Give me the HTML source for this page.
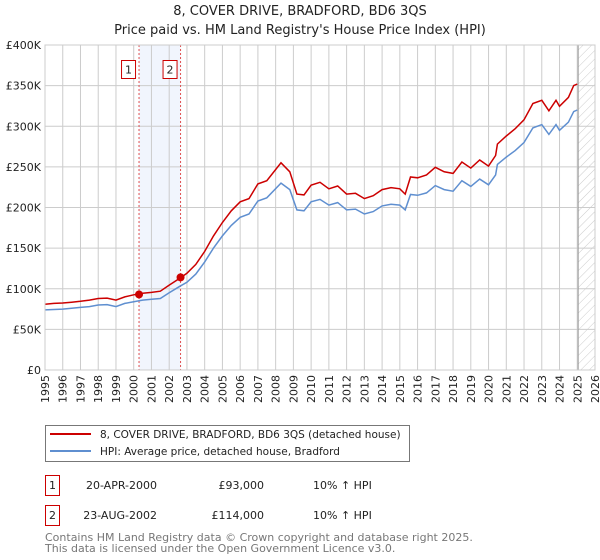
<!DOCTYPE html>
<html><head><meta charset="utf-8"><style>
html,body{margin:0;padding:0;background:#fff;width:600px;height:560px;overflow:hidden;font-family:"DejaVu Sans","Liberation Sans",sans-serif}
svg text{font-family:"DejaVu Sans","Liberation Sans",sans-serif}
</style></head><body>
<svg id="chart" width="600" height="560" xmlns="http://www.w3.org/2000/svg">
<defs><pattern id="hatch" patternUnits="userSpaceOnUse" width="6" height="6" patternTransform="rotate(45)"><line x1="0" y1="0" x2="0" y2="6" stroke="#ccc" stroke-width="1"/></pattern></defs>
<text x="300" y="15" text-anchor="middle" font-size="13" fill="#222">8, COVER DRIVE, BRADFORD, BD6 3QS</text>
<text x="300" y="34" text-anchor="middle" font-size="13" fill="#222">Price paid vs. HM Land Registry's House Price Index (HPI)</text>
<g id="grid"></g><g id="marks"></g><g id="axes"></g>
<rect x="45.5" y="425.5" width="364" height="36" fill="#fff" stroke="#777"/>
<line x1="50" y1="434" x2="91" y2="434" stroke="#cc0000" stroke-width="2"/>
<text x="100" y="438" font-size="10.5" fill="#222">8, COVER DRIVE, BRADFORD, BD6 3QS (detached house)</text>
<line x1="50" y1="451" x2="91" y2="451" stroke="#5f8fd0" stroke-width="2"/>
<text x="100" y="455" font-size="10.5" fill="#222">HPI: Average price, detached house, Bradford</text>
<g>
<rect x="45.5" y="475.5" width="14" height="20" fill="#fff" stroke="#cc0000"/>
<text x="52.5" y="489" text-anchor="middle" font-size="11" fill="#222">1</text>
<text x="157" y="489" text-anchor="end" font-size="11" fill="#222">20-APR-2000</text>
<text x="264" y="489" text-anchor="end" font-size="11" fill="#222">£93,000</text>
<text x="313" y="489" font-size="11" fill="#222">10% ↑ HPI</text></g>
<g>
<rect x="45.5" y="505.5" width="14" height="20" fill="#fff" stroke="#cc0000"/>
<text x="52.5" y="519" text-anchor="middle" font-size="11" fill="#222">2</text>
<text x="157" y="519" text-anchor="end" font-size="11" fill="#222">23-AUG-2002</text>
<text x="264" y="519" text-anchor="end" font-size="11" fill="#222">£114,000</text>
<text x="313" y="519" font-size="11" fill="#222">10% ↑ HPI</text></g>
<text x="45" y="541" font-size="11" fill="#777">Contains HM Land Registry data © Crown copyright and database right 2025.</text>
<text x="45" y="552" font-size="11" fill="#777">This data is licensed under the Open Government Licence v3.0.</text>
</svg>
<script>
const years=[1995,1996,1997,1998,1999,2000,2001,2002,2003,2004,2005,2006,2007,2008,2009,2010,2011,2012,2013,2014,2015,2016,2017,2018,2019,2020,2021,2022,2023,2024,2025,2026];
const yTicks=[0,50000,100000,150000,200000,250000,300000,350000,400000];
const yTickLabels=["£0","£50K","£100K","£150K","£200K","£250K","£300K","£350K","£400K"];
const hpiDates=[1995,1995.5,1996,1996.5,1997,1997.5,1998,1998.5,1999,1999.5,2000,2000.5,2001,2001.5,2002,2002.6,2003,2003.5,2004,2004.5,2005,2005.5,2006,2006.5,2007,2007.5,2008.3,2008.8,2009.2,2009.6,2010,2010.5,2011,2011.5,2012,2012.5,2013,2013.5,2014,2014.5,2015,2015.3,2015.6,2016,2016.5,2017,2017.5,2018,2018.5,2019,2019.5,2020,2020.4,2020.5,2021,2021.5,2022,2022.5,2023,2023.4,2023.8,2024,2024.5,2024.8,2025];
const hpiValues=[74000,74500,75000,76000,77000,78000,80000,80500,78000,82000,84000,86000,87000,88000,95000,103000,108000,118000,133000,150000,165000,178000,188000,192000,208000,212000,230000,222000,197000,196000,207000,210000,203000,206000,197000,198000,192000,195000,202000,204000,203000,197000,216000,215000,218000,227000,222000,220000,233000,226000,235000,228000,240000,253000,262000,270000,280000,298000,302000,290000,302000,295000,305000,318000,320000];
const priceValues=[81000,82000,82500,83500,84500,86000,88000,88500,86000,90000,92500,94500,95500,97000,104500,113000,119000,130000,146000,165000,181500,196000,207000,211000,229000,233000,255000,244000,216500,215500,227500,231000,223000,226500,216500,217500,211000,214500,222000,224500,223000,216500,237500,236500,240000,249500,244000,242000,256000,248500,258500,251000,264000,278000,288000,297000,308000,328000,332000,319000,332000,324500,335500,350000,352000];
const saleDates=[2000.3,2002.64];
const saleValues=[93000,114000];
const saleLabels=["1","2"];
const NS="http://www.w3.org/2000/svg";
const X0=45,X1=595,Y0=370,Y1=45;
const xs=d=>X0+(d-1995)/(2026-1995)*(X1-X0);
const ys=v=>Y0-v/400000*(Y0-Y1);
function mk(tag,attrs,parent){const e=document.createElementNS(NS,tag);for(const k in attrs)e.setAttribute(k,attrs[k]);parent.appendChild(e);return e;}
const grid=document.getElementById('grid'),marks=document.getElementById('marks'),axes=document.getElementById('axes');
const band=mk('rect',{x:xs(saleDates[0]),y:Y1,width:xs(saleDates[1])-xs(saleDates[0]),height:Y0-Y1,fill:'#eef3fc',opacity:0.8},grid);


const hatch=mk('rect',{x:xs(2025.05),y:Y1,width:X1-xs(2025.05),height:Y0-Y1,fill:'url(#hatch)'},grid);


years.forEach(y=>{const l=mk('line',{x1:xs(y),x2:xs(y),y1:Y1,y2:Y0,stroke:'#ccc','stroke-width':1},grid);


const tx=xs(y)+4,ty=Y0+5;
const t=mk('text',{x:tx,y:ty,transform:'rotate(-90 '+tx+' '+ty+')','text-anchor':'end','font-size':11,fill:'#222'},axes);t.textContent=y;

});
yTicks.forEach((v,i)=>{const l=mk('line',{x1:X0,x2:X1,y1:ys(v),y2:ys(v),stroke:'#ccc','stroke-width':1},grid);


const t=mk('text',{x:X0-4,y:ys(v)+4,'text-anchor':'end','font-size':11,fill:'#222'},axes);t.textContent=yTickLabels[i];

});
const nl=mk('line',{x1:xs(2025.05),x2:xs(2025.05),y1:Y1,y2:Y0,stroke:'#999','stroke-width':1},grid);


saleDates.forEach((d,i)=>{const l=mk('line',{x1:xs(d),x2:xs(d),y1:Y1,y2:Y0,stroke:'#e05050','stroke-width':1,'stroke-dasharray':'2,2'},marks);


const r=mk('rect',{x:xs(d)-17.5,y:60.5,width:14,height:18,fill:'#fff',stroke:'#cc0000'},marks);


const t=mk('text',{x:xs(d)-10.5,y:73.5,'text-anchor':'middle','font-size':11,fill:'#222'},marks);t.textContent=saleLabels[i];

});
function path(vals){return hpiDates.map((d,i)=>(i?'L':'M')+xs(d).toFixed(1)+','+ys(vals[i]).toFixed(1)).join('');}
const hp=mk('path',{d:path(hpiValues),fill:'none',stroke:'#5f8fd0','stroke-width':1.5},marks);


const pp=mk('path',{d:path(priceValues),fill:'none',stroke:'#cc0000','stroke-width':1.5},marks);


saleDates.forEach((d,i)=>{const c=mk('circle',{cx:xs(d),cy:ys(saleValues[i]),r:4,fill:'#cc0000'},marks);

});
const fr=mk('rect',{x:X0,y:Y1,width:X1-X0,height:Y0-Y1,fill:'none',stroke:'#ccc'},axes);


</script>
</body></html>
